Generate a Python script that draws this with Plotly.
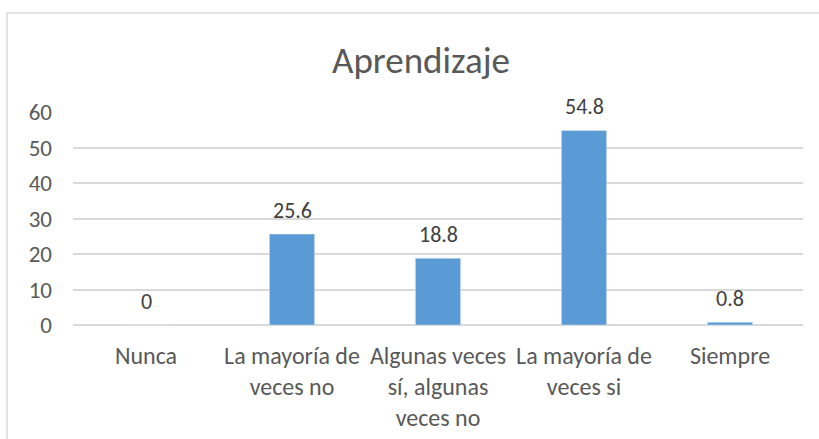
import plotly.graph_objects as go

categories = ["Nunca", "La mayoría de<br>veces no", "Algunas veces<br>sí, algunas<br>veces no", "La mayoría de<br>veces si", "Siempre"]
values = [0, 25.6, 18.8, 54.8, 0.8]
labels = ["0", "25.6", "18.8", "54.8", "0.8"]
y_ticks = [0, 10, 20, 30, 40, 50, 60]

FONT = "Carlito, Lato, sans-serif"

fig = go.Figure(go.Bar(
    x=categories, y=values,
    marker=dict(color="#5B9BD5"), width=0.31, cliponaxis=False,
))

W, H = 819, 439
l, r, t, b = 73, 16, 112, 114
pw, ph = W - l - r, H - t - b

for c, v, s in zip(categories, values, labels):
    fig.add_annotation(x=c, y=v, text=s, showarrow=False, yanchor="bottom", yshift=8,
                       font=dict(family=FONT, size=22, color="#404040"))

fig.update_layout(
    width=W, height=H, margin=dict(l=l, r=r, t=t, b=b),
    paper_bgcolor="white", plot_bgcolor="white",
    showlegend=False,
    title=dict(text="Aprendizaje", x=(421 - l) / pw, xref="paper", xanchor="center",
               y=1 - 60 / H, yanchor="middle",
               font=dict(family=FONT, size=37, color="#595959")),
    font=dict(family=FONT, size=23, color="#595959"),
    xaxis=dict(showgrid=False, showline=False, ticks="", automargin=False,
               tickfont=dict(size=24, color="#595959")),
    yaxis=dict(range=[0, 60], tickvals=y_ticks, showgrid=True, gridcolor="#D9D9D9", gridwidth=1.5,
               zeroline=True, zerolinecolor="#D9D9D9", zerolinewidth=1.5, ticks="", ticklen=0,
               automargin=False, tickfont=dict(size=23, color="#595959")),
    shapes=[
        dict(type="line", xref="paper", yref="paper", x0=(7 - l) / pw, x1=(W - l) / pw,
             y0=(H - b - 13) / ph, y1=(H - b - 13) / ph, line=dict(color="#D9D9D9", width=1.5)),
        dict(type="line", xref="paper", yref="paper", x0=(7 - l) / pw, x1=(7 - l) / pw,
             y0=(H - b - 13) / ph, y1=-b / ph, line=dict(color="#D9D9D9", width=1.5)),
    ],
)
fig.update_yaxes(ticklabelstandoff=20)
fig.update_xaxes(ticklabelstandoff=14)
fig.write_html("out.html", post_script="document.body.style.margin='0';",
               config={"displayModeBar": False})
